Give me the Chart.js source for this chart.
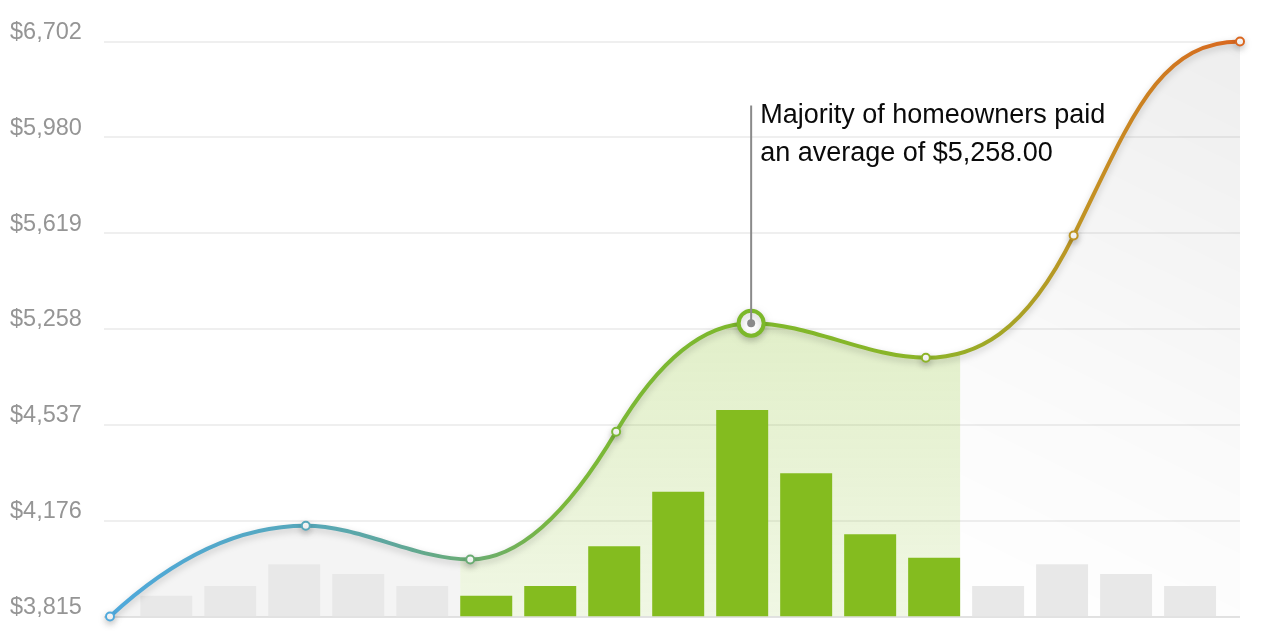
<!DOCTYPE html>
<html>
<head>
<meta charset="utf-8">
<script src="https://cdn.jsdelivr.net/npm/chart.js@4.4.1/dist/chart.umd.min.js"></script>
<style>
  html, body { margin: 0; padding: 0; background: #ffffff; }
  #wrap { position: relative; width: 1268px; height: 640px; }
</style>
</head>
<body>
<div id="wrap"><canvas id="chart"></canvas></div>
<script>
// ---------------- data ----------------
const tickLabels = ['$3,815', '$4,176', '$4,537', '$5,258', '$5,619', '$5,980', '$6,702'];
const tickValues = [3815, 4176, 4537, 5258, 5619, 5980, 6702];

// smooth line: horizontal positions (in bar-slot units) and dollar values
const lineX = [-0.88, 2.18, 4.75, 7.03, 9.14, 11.87, 14.18, 16.78];
const lineValues = [3815, 4157, 4030, 4511, 5280, 5042, 5610, 6702];
const highlightIndex = 4;

// background distribution bars
const barX = [0, 1, 2, 3, 4, 5, 6, 7, 8, 9, 10, 11, 12, 13, 14, 15, 16];
const barValues = [3.6, 5.3, 9.1, 7.4, 5.3, 3.6, 5.3, 12.2, 21.7, 35.9, 24.9, 14.3, 10.2, 5.3, 9.1, 7.4, 5.3];
const barHighlighted = [0, 0, 0, 0, 0, 1, 1, 1, 1, 1, 1, 1, 1, 0, 0, 0, 0];

const annotationLines = ['Majority of homeowners paid', 'an average of $5,258.00'];

// ---------------- helpers ----------------
const FONT = '"Liberation Sans", Arial, Helvetica, sans-serif';
const GREEN = '#84bc1f';
const GREY_BAR = '#e8e8e8';
const CURVE_STEEPNESS = 2;
const END_HANDLE = 0.5;

// dollar value -> position on the evenly spaced dollar axis
function toLevel(v) {
  for (let i = 0; i < tickValues.length - 1; i++) {
    if (v <= tickValues[i + 1]) return i + (v - tickValues[i]) / (tickValues[i + 1] - tickValues[i]);
  }
  return tickValues.length - 1;
}

function lineGradient(chart) {
  const a = chart.chartArea;
  if (!a) return '#7cb82a';
  const g = chart.ctx.createLinearGradient(a.left, 0, a.right, 0);
  g.addColorStop(0.00, '#4fa9dc');
  g.addColorStop(0.17, '#56a8bc');
  g.addColorStop(0.25, '#5fa79c');
  g.addColorStop(0.32, '#6aac72');
  g.addColorStop(0.40, '#7ab83a');
  g.addColorStop(0.58, '#7eb82a');
  g.addColorStop(0.72, '#8cb428');
  g.addColorStop(0.80, '#a8a326');
  g.addColorStop(0.87, '#c49023');
  g.addColorStop(1.00, '#da661f');
  return g;
}

function fillPattern(chart) {
  const a = chart.chartArea;
  if (!a) return 'rgba(0,0,0,0.04)';
  const bars = chart.getDatasetMeta(0).data;
  const first = barHighlighted.indexOf(1);
  const last = barHighlighted.lastIndexOf(1);
  let x0, x1;
  if (bars[first] && bars[first].width) {
    x0 = bars[first].x - bars[first].width / 2;
    x1 = bars[last].x + bars[last].width / 2;
  } else {
    const xs = chart.scales.x;
    x0 = xs.getPixelForValue(barX[first] - 0.4);
    x1 = xs.getPixelForValue(barX[last] + 0.4);
  }
  const cv = document.createElement('canvas');
  cv.width = chart.width;
  cv.height = chart.height;
  const c = cv.getContext('2d');
  const h = a.bottom - a.top;
  c.fillStyle = 'rgba(0,0,0,0.042)';
  c.fillRect(a.left - 5, a.top - 5, x0 - a.left + 5, h + 10);
  const gg = c.createLinearGradient(0, a.top, 0, a.bottom);
  gg.addColorStop(0, 'rgba(132,188,31,0.32)');
  gg.addColorStop(0.5, 'rgba(132,188,31,0.24)');
  gg.addColorStop(1, 'rgba(132,188,31,0.12)');
  c.fillStyle = gg;
  c.fillRect(x0, a.top - 5, x1 - x0, h + 10);
  const rg = c.createLinearGradient(x1, a.bottom, a.right, a.top);
  rg.addColorStop(0, 'rgba(0,0,0,0.0)');
  rg.addColorStop(0.4, 'rgba(0,0,0,0.02)');
  rg.addColorStop(1, 'rgba(0,0,0,0.065)');
  c.fillStyle = rg;
  c.fillRect(x1, a.top - 5, a.right - x1 + 5, h + 10);
  return chart.ctx.createPattern(cv, 'no-repeat');
}

// smooth Hermite tangents: flat at turning points and at the end
const smoothCurve = {
  id: 'smoothCurve',
  afterDatasetsUpdate(chart) {
    const meta = chart.getDatasetMeta(1);
    const pts = meta.data;
    if (!pts || pts.length < 2) return;
    meta.dataset.updateControlPoints(chart.chartArea, 'x');
    const n = pts.length;
    const sec = [];
    for (let i = 0; i < n - 1; i++) sec.push((pts[i + 1].y - pts[i].y) / (pts[i + 1].x - pts[i].x));
    const m = [];
    for (let i = 0; i < n; i++) {
      if (i === 0) m.push(sec[0] * CURVE_STEEPNESS);
      else if (i === n - 1) m.push(0);
      else if (sec[i - 1] * sec[i] <= 0) m.push(0);
      else m.push((pts[i + 1].y - pts[i - 1].y) / (pts[i + 1].x - pts[i - 1].x) * CURVE_STEEPNESS);
    }
    for (let i = 0; i < n; i++) {
      const p = pts[i];
      if (i > 0) {
        const dx = (p.x - pts[i - 1].x) * (i === n - 1 ? END_HANDLE : 1 / 3);
        p.cp1x = p.x - dx; p.cp1y = p.y - m[i] * dx;
      } else { p.cp1x = p.x; p.cp1y = p.y; }
      if (i < n - 1) {
        const dx = (pts[i + 1].x - p.x) / 3;
        p.cp2x = p.x + dx; p.cp2y = p.y + m[i] * dx;
      } else { p.cp2x = p.x; p.cp2y = p.y; }
    }
  }
};

const lineShadow = {
  id: 'lineShadow',
  beforeDatasetDraw(chart, args) {
    if (args.index !== 1) return;
    const c = chart.ctx;
    c.save();
    c.shadowColor = 'rgba(0,0,0,0.2)';
    c.shadowBlur = 7;
    c.shadowOffsetY = 3;
  },
  afterDatasetDraw(chart, args) {
    if (args.index !== 1) return;
    chart.ctx.restore();
  }
};

const annotation = {
  id: 'annotation',
  afterDatasetsDraw(chart) {
    const p = chart.getDatasetMeta(1).data[highlightIndex];
    if (!p) return;
    const a = chart.chartArea;
    const c = chart.ctx;
    const topY = a.top + 64;
    c.save();
    c.strokeStyle = '#8a8a8a';
    c.lineWidth = 2;
    c.beginPath();
    c.moveTo(p.x, p.y);
    c.lineTo(p.x, topY);
    c.stroke();
    c.fillStyle = '#8a8a8a';
    c.beginPath();
    c.arc(p.x, p.y, 4, 0, Math.PI * 2);
    c.fill();
    c.fillStyle = '#0a0a0a';
    c.font = '27px ' + FONT;
    c.textBaseline = 'alphabetic';
    c.textAlign = 'left';
    annotationLines.forEach((t, i) => c.fillText(t, p.x + 9, topY + 17 + i * 38));
    c.restore();
  }
};

Chart.defaults.font.family = FONT;

new Chart(document.getElementById('chart'), {
  type: 'bar',
  data: {
    datasets: [
      {
        type: 'bar',
        order: 1,
        xAxisID: 'x',
        yAxisID: 'yBars',
        data: barX.map((x, i) => ({ x: x, y: barValues[i] })),
        backgroundColor: barHighlighted.map(h => h ? GREEN : GREY_BAR),
        borderWidth: 0,
        categoryPercentage: 1,
        barPercentage: 0.8125
      },
      {
        type: 'line',
        order: 0,
        xAxisID: 'x',
        yAxisID: 'y',
        data: lineX.map((x, i) => ({ x: x, y: toLevel(lineValues[i]) })),
        tension: 0.4,
        fill: 'start',
        clip: false,
        borderWidth: 4,
        borderColor: (ctx) => lineGradient(ctx.chart),
        backgroundColor: (ctx) => fillPattern(ctx.chart),
        pointRadius: lineValues.map((_, i) => i === highlightIndex ? 12.5 : 4),
        pointBorderWidth: lineValues.map((_, i) => i === highlightIndex ? 4 : 2),
        pointBackgroundColor: '#ffffff',
        pointBorderColor: (ctx) => ctx.dataIndex === highlightIndex ? '#7cb82a' : lineGradient(ctx.chart)
      }
    ]
  },
  options: {
    responsive: true,
    maintainAspectRatio: false,
    devicePixelRatio: 1,
    animation: false,
    events: [],
    layout: { padding: { left: 10, right: 28, top: 41.5, bottom: 23.5 } },
    plugins: {
      legend: { display: false },
      tooltip: { enabled: false },
      title: { display: false },
      filler: { drawTime: 'beforeDatasetsDraw' }
    },
    scales: {
      x: {
        type: 'linear',
        display: false,
        offset: false,
        min: lineX[0],
        max: lineX[lineX.length - 1],
        afterBuildTicks(s) { s.ticks = barX.map(v => ({ value: v })); }
      },
      y: {
        type: 'linear',
        position: 'left',
        min: 0,
        max: tickLabels.length - 1,
        afterFit(s) { s.width = 100; },
        afterBuildTicks(s) { s.ticks = tickLabels.map((_, i) => ({ value: i })); },
        ticks: {
          callback: (v) => tickLabels[v],
          color: '#959595',
          font: { family: FONT, size: 23.5 },
          crossAlign: 'far',
          labelOffset: -9,
          padding: 8
        },
        grid: {
          color: (c) => c.index === 0 ? '#e2e2e2' : '#efefef',
          tickColor: (c) => c.index === 0 ? '#e2e2e2' : '#efefef',
          lineWidth: 2,
          drawTicks: true,
          tickLength: 6
        },
        border: { display: false }
      },
      yBars: {
        type: 'linear',
        display: false,
        min: 0,
        max: 100
      }
    }
  },
  plugins: [smoothCurve, lineShadow, annotation]
});
</script>
</body>
</html>
